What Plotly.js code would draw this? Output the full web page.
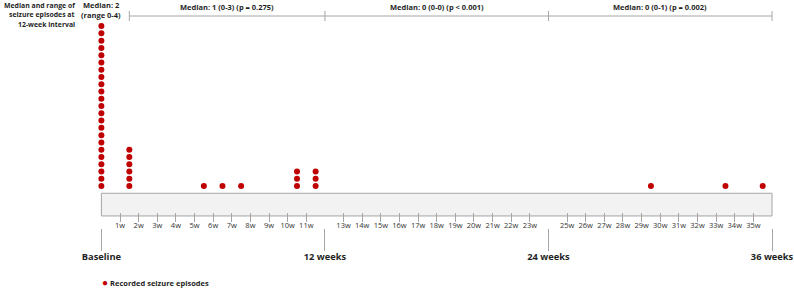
<!DOCTYPE html>
<html><head><meta charset="utf-8">
<script src="https://cdn.plot.ly/plotly-3.0.1.min.js"></script>
<style>html,body{margin:0;padding:0;background:#fff}#chart{width:794px;height:288px}</style>
</head><body><div id="chart"></div>
<script>
// ---- data ----
const columnWeeks = [0, 1.5, 5.5, 6.5, 7.5, 10.5, 11.5, 29.5, 33.5, 35.5];
const columnCounts = [23, 6, 1, 1, 1, 3, 3, 1, 1, 1];
const weekTicks = [1, 2, 3, 4, 5, 6, 7, 8, 9, 10, 11, 13, 14, 15, 16, 17, 18, 19, 20, 21, 22, 23, 25, 26, 27, 28, 29, 30, 31, 32, 33, 34, 35];
const weekLabels = ['1w','2w','3w','4w','5w','6w','7w','8w','9w','10w','11w','13w','14w','15w','16w','17w','18w','19w','20w','21w','22w','23w','25w','26w','27w','28w','29w','30w','31w','32w','33w','34w','35w'];
const milestoneWeeks = [0, 12, 24, 36];
const milestoneLabels = ['Baseline', '12 weeks', '24 weeks', '36 weeks'];
const intervalBounds = [1.5, 12, 24, 36];
const intervalLabels = ['Median: 1 (0-3) (p = 0.275)', 'Median: 0 (0-0) (p &lt; 0.001)', 'Median: 0 (0-1) (p = 0.002)'];
const baselineLabel = ['Median: 2', '(range 0-4)'];
const sideTitle = ['Median and range of', 'seizure episodes at', '12-week interval'];
const legendLabel = 'Recorded seizure episodes';

// ---- build ----
const W = 794, H = 288;
const FONT = 'Open Sans, sans-serif';
const RED = '#c00000', GREY = '#a6a6a6', DARK = '#1f1f1f';
const xRange = [-5.443, 37.18];
const yRange = [-13.03, 26.59];
const py = p => 1 - p / H;

const xs = [], ys = [];
columnWeeks.forEach((w, i) => {
  for (let k = 1; k <= columnCounts[i]; k++) { xs.push(w); ys.push(k); }
});

const traces = [
  {type: 'scatter', mode: 'markers', x: xs, y: ys, name: legendLabel,
   marker: {color: RED, size: 6}, showlegend: false, hoverinfo: 'x+y'},
  {type: 'scatter', mode: 'markers', x: [0, 36], y: [0, 0], xaxis: 'x2',
   marker: {opacity: 0}, showlegend: false, hoverinfo: 'skip'}
];

const shapes = [
  {type: 'rect', xref: 'x', yref: 'y', x0: milestoneWeeks[0], x1: milestoneWeeks[3], y0: -3.12, y1: 0,
   fillcolor: '#f2f2f2', line: {color: GREY, width: 1}, layer: 'below'},
  {type: 'line', xref: 'x', yref: 'paper', x0: intervalBounds[0], x1: intervalBounds[intervalBounds.length - 1],
   y0: py(16), y1: py(16), line: {color: GREY, width: 1}}
];
intervalBounds.forEach(b => shapes.push({type: 'line', xref: 'x', yref: 'paper', x0: b, x1: b,
  y0: py(11), y1: py(21), line: {color: GREY, width: 1}}));

const annotations = [];
intervalLabels.forEach((t, i) => annotations.push({
  xref: 'x', yref: 'paper', x: (intervalBounds[i] + intervalBounds[i + 1]) / 2, y: py(7),
  text: '<b>' + t + '</b>', showarrow: false, xanchor: 'center', yanchor: 'middle',
  font: {family: FONT, size: 7.5, color: DARK}}));
baselineLabel.forEach((t, i) => annotations.push({xref: 'x', yref: 'paper', x: 0, y: py(5 + i * 10.5),
  text: '<b>' + t + '</b>', showarrow: false, xanchor: 'center', yanchor: 'middle',
  font: {family: FONT, size: 7.5, color: DARK}}));
sideTitle.forEach((t, i) => annotations.push({xref: 'paper', yref: 'paper', x: 77 / W, y: py(5 + i * 9.8),
  text: '<b>' + t + '</b>', showarrow: false, xanchor: 'right', yanchor: 'middle', align: 'right',
  font: {family: FONT, size: 6.9, color: DARK}}));
annotations.push({xref: 'paper', yref: 'paper', x: 100 / W, y: py(282),
  text: '<span style="color:' + RED + ';font-size:10px">●</span> <b>' + legendLabel + '</b>', showarrow: false,
  xanchor: 'left', yanchor: 'middle', font: {family: FONT, size: 7.5, color: DARK}});

const layout = {
  width: W, height: H, margin: {l: 0, r: 0, t: 0, b: 0},
  paper_bgcolor: '#fff', plot_bgcolor: 'rgba(0,0,0,0)',
  font: {family: FONT},
  xaxis: {range: xRange, domain: [0, 1], anchor: 'free', position: py(212),
    showgrid: false, zeroline: false, showline: false,
    ticks: 'outside', ticklen: 9, tickwidth: 1, tickcolor: GREY, ticklabelstandoff: -3,
    tickmode: 'array', tickvals: weekTicks, ticktext: weekLabels,
    tickfont: {family: FONT, size: 7.5, color: '#333'}, fixedrange: true},
  xaxis2: {range: xRange, domain: [0, 1], overlaying: 'x', anchor: 'free', position: py(228),
    showgrid: false, zeroline: false, showline: false,
    ticks: 'outside', ticklen: 22, tickwidth: 1, tickcolor: GREY, ticklabelstandoff: -2,
    ticklabeloverflow: 'allow',
    tickmode: 'array', tickvals: milestoneWeeks, ticktext: milestoneLabels.map(s => '<b>' + s + '</b>'),
    tickfont: {family: FONT, size: 9.3, color: DARK}, fixedrange: true},
  yaxis: {range: yRange, domain: [0, 1], visible: false, fixedrange: true},
  shapes: shapes, annotations: annotations, showlegend: false
};

Plotly.newPlot('chart', traces, layout, {displayModeBar: false, staticPlot: true});
</script></body></html>
